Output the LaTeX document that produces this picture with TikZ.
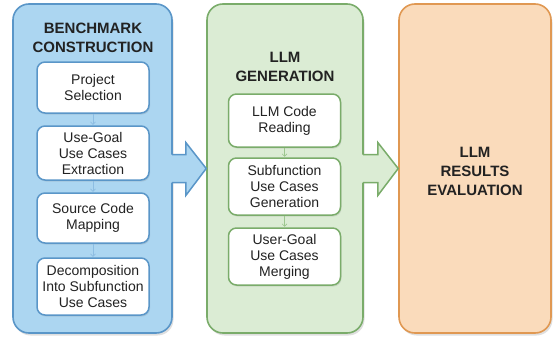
\documentclass[tikz,border=0pt]{standalone}
\usepackage{fontspec}
\setmainfont{Liberation Sans}
\usetikzlibrary{arrows.meta,shadows,calc}
\definecolor{bfill}{HTML}{ACD6F1}
\definecolor{bline}{HTML}{5A96C8}
\definecolor{barr}{HTML}{8DBDE2}
\definecolor{gfill}{HTML}{DBECD4}
\definecolor{gline}{HTML}{7AAC6A}
\definecolor{garr}{HTML}{9CC68E}
\definecolor{ofill}{HTML}{FADBBB}
\definecolor{oline}{HTML}{E09852}
\definecolor{txt}{HTML}{222222}
\tikzset{
  panel/.style={draw, line width=1.6pt, rounded corners=16pt, minimum width=#1, minimum height=329,
    drop shadow={opacity=0.25, shadow xshift=1.5pt, shadow yshift=-2.5pt}},
  ttl/.style={font=\fontsize{15}{19}\selectfont\bfseries, text=txt, align=center, inner sep=0pt},
  ibox/.style={draw, fill=white, line width=1.5pt, rounded corners=8pt, minimum width=112,
    align=center, inner sep=0pt, font=\fontsize{14}{16}\selectfont, text=txt,
    drop shadow={opacity=0.2, shadow xshift=1pt, shadow yshift=-1.5pt}},
  sarr/.style={line width=0.6pt, -{Straight Barb[length=2.5pt,width=5pt]}, shorten >=0.5pt, shorten <=0.5pt},
}
\begin{document}
\begin{tikzpicture}[x=1pt,y=-1pt]
\useasboundingbox (0,0) rectangle (553,340);
% panels
\node[panel=159, fill=bfill, draw=bline] (p1) at (92.5,168.5) {};
\node[panel=156, fill=gfill, draw=gline] (p2) at (285,168.5) {};
\node[panel=152, fill=ofill, draw=oline] (p3) at (475,168.5) {};
% titles
\node[ttl] (t1) at (93,38) {BENCHMARK\\CONSTRUCTION};
\node[ttl] (t2) at (285,67) {LLM\\GENERATION};
\node[ttl] (t3) at (475,171) {LLM\\RESULTS\\EVALUATION};
% panel 1 boxes
\node[ibox, draw=bline, minimum height=51] (a1) at (93,87.5) {Project\\Selection};
\node[ibox, draw=bline, minimum height=54] (a2) at (93,153) {Use-Goal\\Use Cases\\Extraction};
\node[ibox, draw=bline, minimum height=50] (a3) at (93,218) {Source Code\\Mapping};
\node[ibox, draw=bline, minimum height=57] (a4) at (93,286.5) {Decomposition\\Into Subfunction\\Use Cases};
\draw[sarr, barr] (a1) -- (a2);
\draw[sarr, barr] (a2) -- (a3);
\draw[sarr, barr] (a3) -- (a4);
% panel 2 boxes
\node[ibox, draw=gline, minimum height=53] (g1) at (284.5,120.5) {LLM Code\\Reading};
\node[ibox, draw=gline, minimum height=57] (g2) at (284.5,186.5) {Subfunction\\Use Cases\\Generation};
\node[ibox, draw=gline, minimum height=57] (g3) at (284.5,256.5) {User-Goal\\Use Cases\\Merging};
\draw[sarr, garr] (g1) -- (g2);
\draw[sarr, garr] (g2) -- (g3);
% big arrows
\fill[bfill] ($(p1.east)+(-3,-14)$) -- ($(p1.east)+(13,-14)$) -- ($(p1.east)+(13,-26)$)
  -- (p2.west) -- ($(p1.east)+(13,27)$) -- ($(p1.east)+(13,14)$) -- ($(p1.east)+(-3,14)$) -- cycle;
\draw[bline, line width=1.5pt, line join=miter] ($(p1.east)+(-0.8,-14)$) -- ($(p1.east)+(13,-14)$) -- ($(p1.east)+(13,-26)$)
  -- (p2.west) -- ($(p1.east)+(13,27)$) -- ($(p1.east)+(13,14)$) -- ($(p1.east)+(-0.8,14)$);
\fill[gfill] ($(p2.east)+(-3,-14)$) -- ($(p2.east)+(14,-14)$) -- ($(p2.east)+(14,-26)$)
  -- (p3.west) -- ($(p2.east)+(14,27)$) -- ($(p2.east)+(14,14)$) -- ($(p2.east)+(-3,14)$) -- cycle;
\draw[gline, line width=1.5pt, line join=miter] ($(p2.east)+(-0.8,-14)$) -- ($(p2.east)+(14,-14)$) -- ($(p2.east)+(14,-26)$)
  -- (p3.west) -- ($(p2.east)+(14,27)$) -- ($(p2.east)+(14,14)$) -- ($(p2.east)+(-0.8,14)$);
\end{tikzpicture}
\end{document}
